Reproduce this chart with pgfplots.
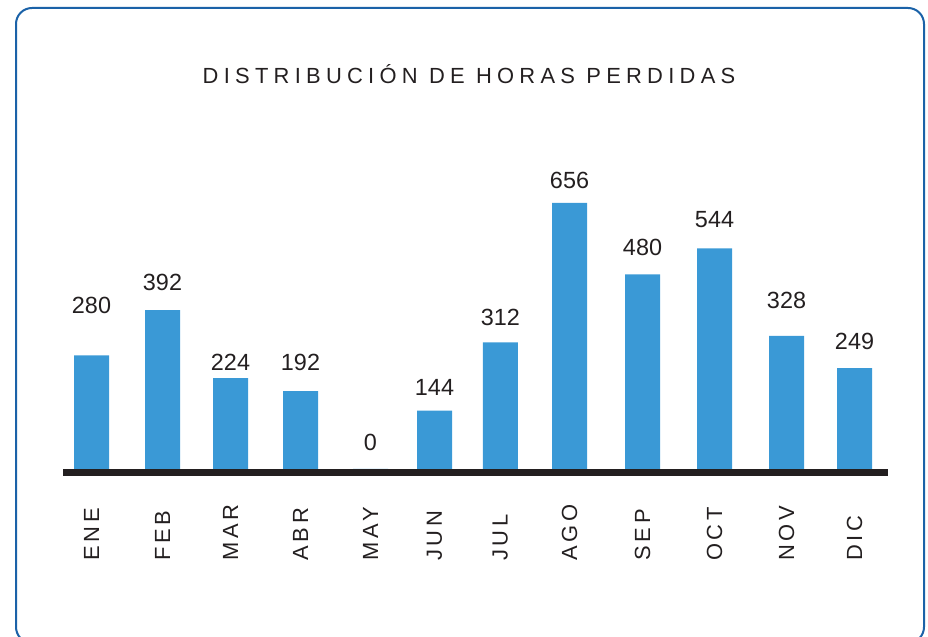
\documentclass[border=0pt]{standalone}
\usepackage{pgfplots}
\pgfplotsset{compat=1.18}
\usepackage{fontspec}
\setmainfont{Liberation Sans}
\newfontfamily\spaced{Liberation Sans}[LetterSpace=24]
\newfontfamily\tickfont{Liberation Sans}[LetterSpace=18]
\definecolor{barblue}{HTML}{3A99D6}
\definecolor{frameblue}{HTML}{1B62A8}
\definecolor{ink}{HTML}{231F20}
\begin{document}
\begin{tikzpicture}[x=1bp,y=1bp]
\useasboundingbox (0,0) rectangle (928,637);
\begin{scope}
\clip (0,0) rectangle (928,637);
\draw[frameblue, line width=2bp, rounded corners=16bp] (16,-6) rectangle (924,629);
\end{scope}
\node[font=\spaced\fontsize{22}{22}\selectfont, text=ink, anchor=base] at (469,553) {DISTRIBUCIÓN DE HORAS PERDIDAS};
\begin{axis}[
  at={(63bp,164.5bp)}, anchor=south west,
  scale only axis, width=825bp, height=332.5bp,
  xmin=63, xmax=888, ymin=-8.63, ymax=811.3,
  axis x line*=bottom, axis y line=none,
  x axis line style={line width=7bp, ink, -},
  axis on top,
  xtick=data, major tick length=0pt,
  xticklabels={ENE,FEB,MAR,ABR,MAY,JUN,JUL,AGO,SEP,OCT,NOV,DIC},
  x tick label style={font=\tickfont\fontsize{22}{22}\selectfont, text=ink, rotate=90, anchor=west, xshift=-92bp},
  clip=false,
]
\addplot[ybar, bar width=35bp, fill=barblue, draw=none] coordinates {
(91.5,280) (162.5,392) (230.5,224) (300.5,192) (370.5,0) (434.5,144)
(500.3,312) (569.5,656) (642.5,480) (714.5,544) (786.5,328) (854.5,249)};
\addplot[draw=none, mark=none, point meta=explicit symbolic,
  nodes near coords,
  nodes near coords style={font=\fontsize{23.5}{23.5}\selectfont, text=ink, anchor=base, inner sep=0pt}]
 coordinates {
(91.5,384.0) [280] (162.5,439.0) [392] (230.5,244.1) [224] (300.5,244.1) [192]
(370.5,44.4) [0] (434.5,180.8) [144] (500.3,352.7) [312] (569.5,690.5) [656]
(642.5,526.0) [480] (714.5,595.1) [544] (786.5,396.3) [328] (854.5,293.5) [249]};
\end{axis}
\end{tikzpicture}
\end{document}
